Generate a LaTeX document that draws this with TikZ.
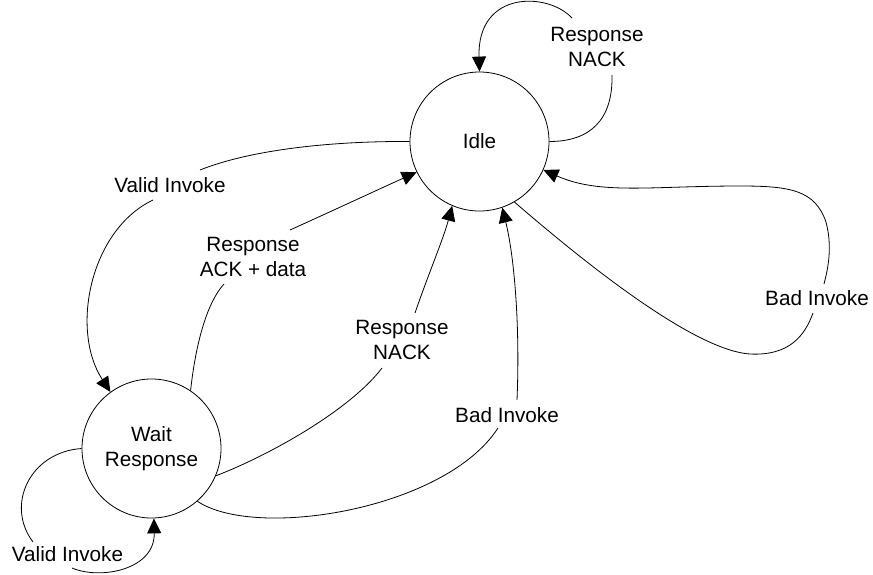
\documentclass[tikz,border=0pt]{standalone}
\usepackage{fontspec}
\setmainfont{Liberation Sans}
\usetikzlibrary{arrows.meta}
\begin{document}
\begin{tikzpicture}[x=1pt,y=-1pt,
  txt/.style={font=\fontsize{20.7}{25.5}\selectfont},
  state/.style={txt,draw,circle,minimum size=139pt,inner sep=0pt,line width=0.8pt,align=center},
  lbl/.style={txt,align=center,inner sep=0pt},
  edge/.style={line width=0.8pt},
  arr/.style={edge,-{Triangle[length=15pt,width=14pt]}}
]
\useasboundingbox (0,0) rectangle (873,574);
\node[state] (idle) at (479.5,141.5) {Idle};
\node[state] (wait) at (151.5,448.5) {Wait\\Response};
\node[lbl] (L1) at (597,47) {Response\\NACK};
\node[lbl] (L2) at (170,185) {Valid Invoke};
\node[lbl] (L3) at (253,257) {Response\\ACK + data};
\node[lbl] (L4) at (402,340) {Response\\NACK};
\node[lbl] (L5) at (507,415) {Bad Invoke};
\node[lbl] (L6) at (817,298) {Bad Invoke};
\node[lbl] (L7) at (67.5,554) {Valid Invoke};
% Idle self loop
\draw[edge] (idle.0) .. controls (590,141.5) and (613,120) .. ([shift={(15,28)}]L1.center);
\draw[arr] ([shift={(-25,-29)}]L1.center) .. controls (548,-8) and (477,-10) .. (idle.90);
% Valid Invoke idle -> wait
\draw[edge] (idle.180) .. controls (330,141) and (250,150) .. ([shift={(30,-15)}]L2.center);
\draw[arr] ([shift={(-17,15)}]L2.center) .. controls (90,230) and (70,330) .. (wait.126);
% Response ACK + data
\draw[edge] (wait.56) .. controls (195,350) and (205,305) .. ([shift={(-29,27)}]L3.center);
\draw[arr] ([shift={(37,-27)}]L3.center) .. controls (332,211) and (375,191) .. (idle.206);
% Response NACK
\draw[edge] (wait.-23) .. controls (270,455) and (350,410) .. ([shift={(-20,28)}]L4.center);
\draw[arr] ([shift={(13,-27)}]L4.center) .. controls (428,275) and (443,240) .. (idle.247.5);
% Bad Invoke wait -> idle
\draw[edge] (wait.-49) .. controls (255,540) and (445,510) .. ([shift={(-9,13)}]L5.center);
\draw[arr] ([shift={(10,-15)}]L5.center) .. controls (520,330) and (515,260) .. (idle.-71);
% Bad Invoke idle self loop
\draw[edge] (idle.-60) .. controls (570,250) and (690,350) .. (750,354) .. controls (790,356) and (805,335) .. ([shift={(-4,15)}]L6.center);
\draw[arr] ([shift={(7,-14)}]L6.center) .. controls (829,265) and (832,245) .. (826,222) .. controls (815,190) and (790,186) .. (740,186) .. controls (650,186) and (600,195) .. (idle.-24);
% Valid Invoke wait self loop
\draw[edge] (wait.180) .. controls (30,452) and (5,505) .. ([shift={(-34.5,-12)}]L7.center);
\draw[arr] ([shift={(4.5,14)}]L7.center) .. controls (100,580) and (155,570) .. (wait.-88);
\end{tikzpicture}
\end{document}
